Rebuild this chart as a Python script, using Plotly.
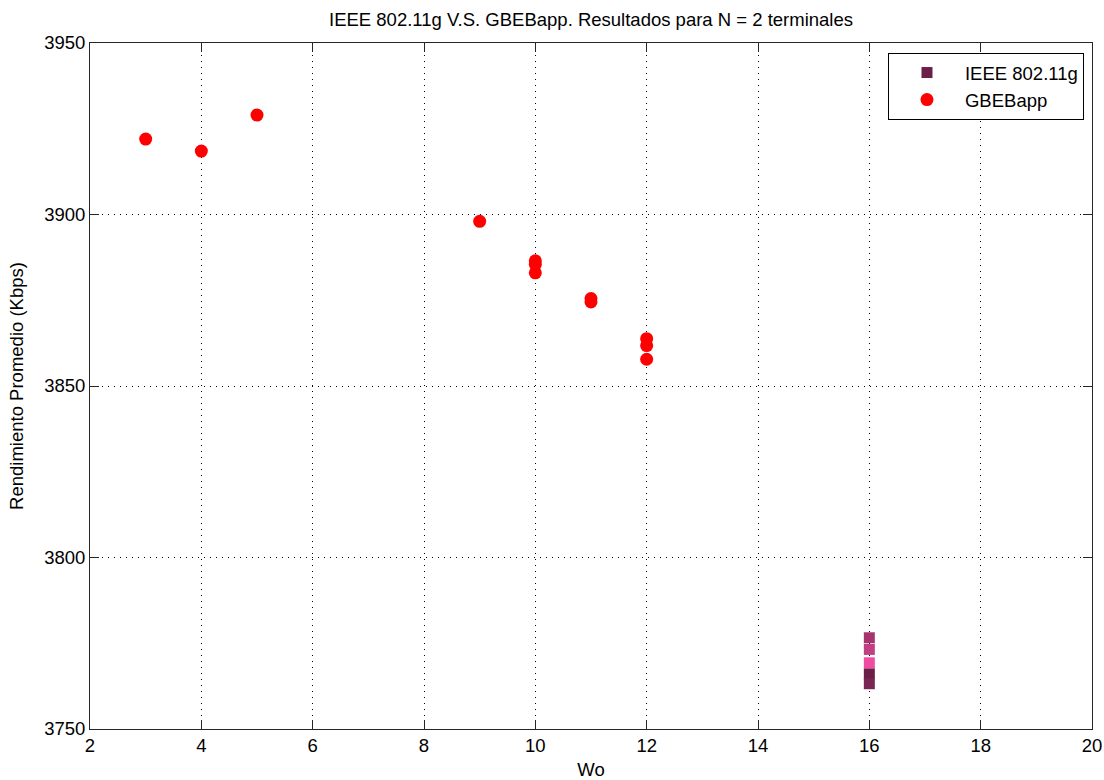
import plotly.graph_objects as go

# GBEBapp series
gbe_x = [3, 4, 5, 9, 10, 10, 10, 11, 11, 12, 12, 12]
gbe_y = [3922.0, 3918.5, 3929.0, 3898.0, 3886.5, 3885.5, 3883.0, 3875.5, 3874.5, 3863.8, 3861.8, 3857.8]

# IEEE 802.11g series
ieee_x = [16, 16, 16, 16, 16]
ieee_y = [3766.1, 3776.6, 3773.2, 3769.3, 3763.2]
ieee_colors = ["#6b1f47", "#a8346e", "#c23e82", "#f04ca2", "#7a2554"]

x_ticks = [2, 4, 6, 8, 10, 12, 14, 16, 18, 20]
y_ticks = [3750, 3800, 3850, 3900, 3950]

FONT = "Liberation Sans, Arial, Helvetica, sans-serif"
FS = 18.5

W, H = 1104, 780

fig = go.Figure()
fig.add_trace(go.Scatter(
    x=ieee_x, y=ieee_y, mode="markers", name="IEEE 802.11g",
    marker=dict(symbol="square", size=11, color=ieee_colors, line=dict(width=0)),
))
fig.add_trace(go.Scatter(
    x=gbe_x, y=gbe_y, mode="markers", name="GBEBapp",
    marker=dict(symbol="circle", size=13, color="#ff0000", line=dict(width=0)),
))

axis_common = dict(
    showline=True, linecolor="#262626", linewidth=1, mirror="ticks",
    ticks="inside", ticklen=9, tickcolor="#262626", tickwidth=1,
    showgrid=True, gridcolor="#000000", gridwidth=1, griddash="1px,5px",
    zeroline=False, automargin=False,
    tickfont=dict(family=FONT, size=FS, color="#000"),
)

fig.update_layout(
    width=W, height=H,
    margin=dict(l=90, r=12, t=43, b=51),
    paper_bgcolor="white", plot_bgcolor="white",
    font=dict(family=FONT, size=FS, color="#000"),
    title=dict(text="IEEE 802.11g V.S. GBEBapp. Resultados para N = 2 terminales",
               x=591 / W, xanchor="center", y=1 - 20 / H, yanchor="middle",
               font=dict(family=FONT, size=FS, color="#000")),
    xaxis=dict(range=[2, 20], tickvals=x_ticks, ticktext=[str(v) for v in x_ticks],
               title=dict(text="Wo", standoff=7, font=dict(family=FONT, size=FS)),
               **axis_common),
    yaxis=dict(range=[3750, 3950], tickvals=y_ticks, ticktext=[str(v) for v in y_ticks],
               title=dict(text="Rendimiento Promedio (Kbps)", standoff=15,
                          font=dict(family=FONT, size=FS)),
               **axis_common),
    legend=dict(x=0.992, xanchor="right", y=0.9854, yanchor="top",
                bgcolor="white", bordercolor="#000", borderwidth=1,
                font=dict(family=FONT, size=FS, color="#000"),
                itemwidth=66, tracegroupgap=0),
    showlegend=True,
)

fig.write_html("out.html", config={"displayModeBar": False},
               post_script="document.body.style.margin='0px';")
